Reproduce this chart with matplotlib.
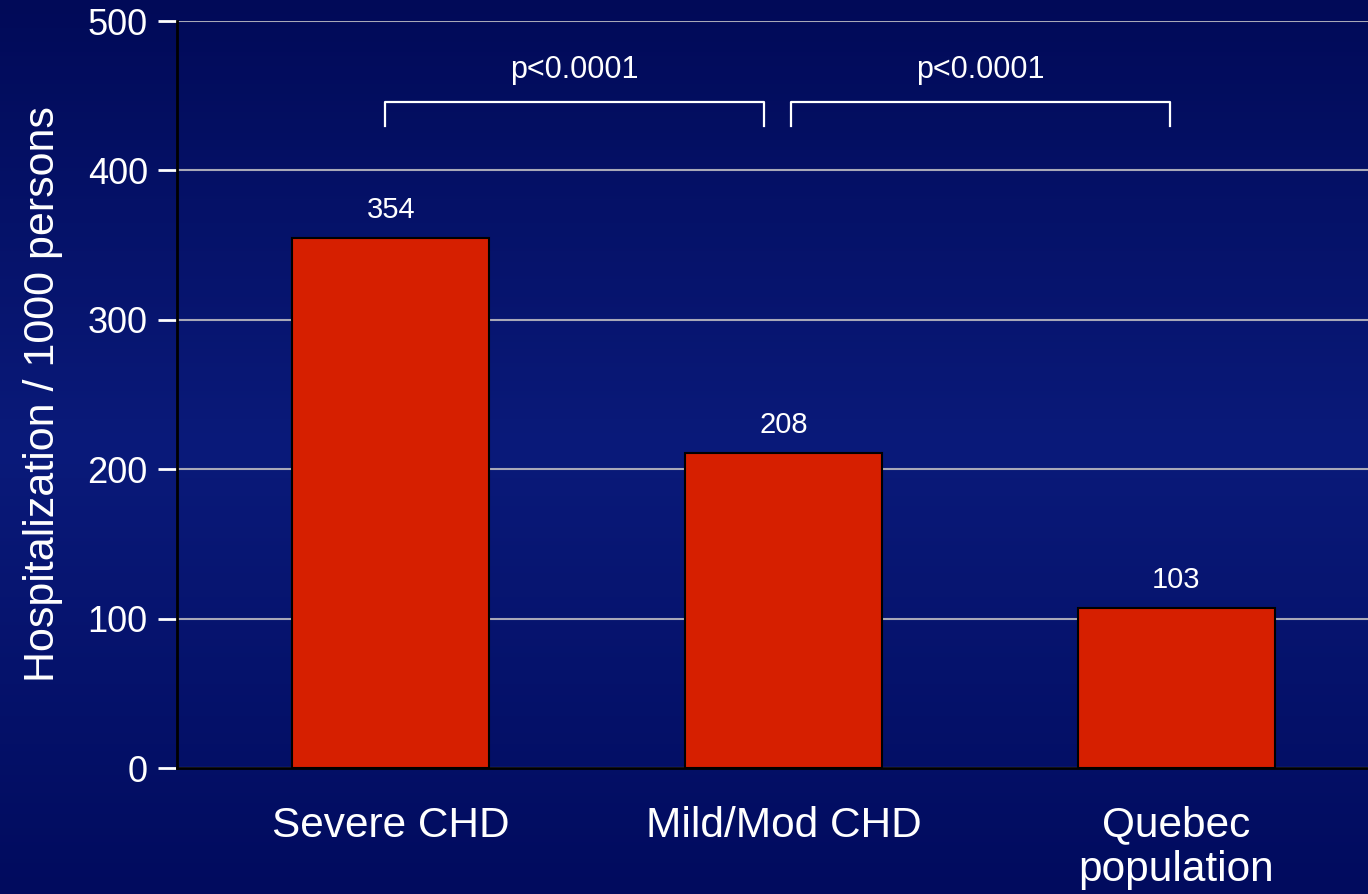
import numpy as np
import matplotlib
matplotlib.use('Agg')
from matplotlib import pyplot as plt
from matplotlib.colors import LinearSegmentedColormap

plt.rcParams['font.family'] = ['Liberation Sans', 'DejaVu Sans']

categories = ['Severe CHD', 'Mild/Mod CHD', 'Quebec\npopulation']
bar_heights = [355, 211, 107]
value_labels = ['354', '208', '103']
yticks = [0, 100, 200, 300, 400, 500]
pvalues = ['p<0.0001', 'p<0.0001']
brackets = [(0, 1), (1, 2)]

fig = plt.figure(figsize=(13.68, 8.94), dpi=100)

# background gradient
bg = fig.add_axes([0, 0, 1, 1], zorder=-10)
cmap = LinearSegmentedColormap.from_list(
    'bg', [(0, '#010a58'), (0.5, '#0a1a7a'), (1, '#010b5e')])
grad = np.linspace(0, 1, 256).reshape(-1, 1)
bg.imshow(grad, aspect='auto', cmap=cmap, extent=[0, 1, 0, 1])
bg.axis('off')

ax = fig.add_axes([0.1294, 0.1409, 0.8706, 0.8356])
ax.patch.set_alpha(0)
x = np.arange(len(categories))
ax.bar(x, bar_heights, width=0.502, color='#d61f00', edgecolor='black',
       linewidth=1.5, zorder=3)

for xi, h, lab in zip(x, bar_heights, value_labels):
    ax.annotate(lab, (xi, h), xytext=(0, 20), textcoords='offset points',
                ha='center', va='center', color='white', fontsize=21)

for (a, b), p in zip(brackets, pvalues):
    x0 = a - 0.015 if a == 0 else a + 0.019
    x1 = b - 0.05 if a == 0 else b - 0.015
    ax.plot([x0, x0, x1, x1], [430, 445.8, 445.8, 430], color='white',
            lw=1.6, clip_on=False, zorder=4)
    ax.text((x0 + x1) / 2, 467, p, ha='center', va='center', color='white',
            fontsize=22)

ax.set_xlim(-0.545, 2.489)
ax.set_ylim(0, 500)
ax.set_yticks(yticks)
ax.set_xticks(x)
ax.set_xticklabels(categories, fontsize=30.5, color='white', linespacing=1.15)
ax.tick_params(axis='x', length=0, pad=27)
ax.tick_params(axis='y', colors='white', labelsize=26, length=14, width=2,
               pad=7)
ax.yaxis.grid(True, color='#a8a8b8', lw=1.5, zorder=0)
ax.set_axisbelow(True)
for s in ['top', 'right']:
    ax.spines[s].set_visible(False)
for s in ['left', 'bottom']:
    ax.spines[s].set_color('black')
    ax.spines[s].set_linewidth(2)
    ax.spines[s].set_zorder(5)
ax.set_ylabel('Hospitalization / 1000 persons', color='white', fontsize=31,
              labelpad=18)

fig.savefig('out.png', dpi=100)
